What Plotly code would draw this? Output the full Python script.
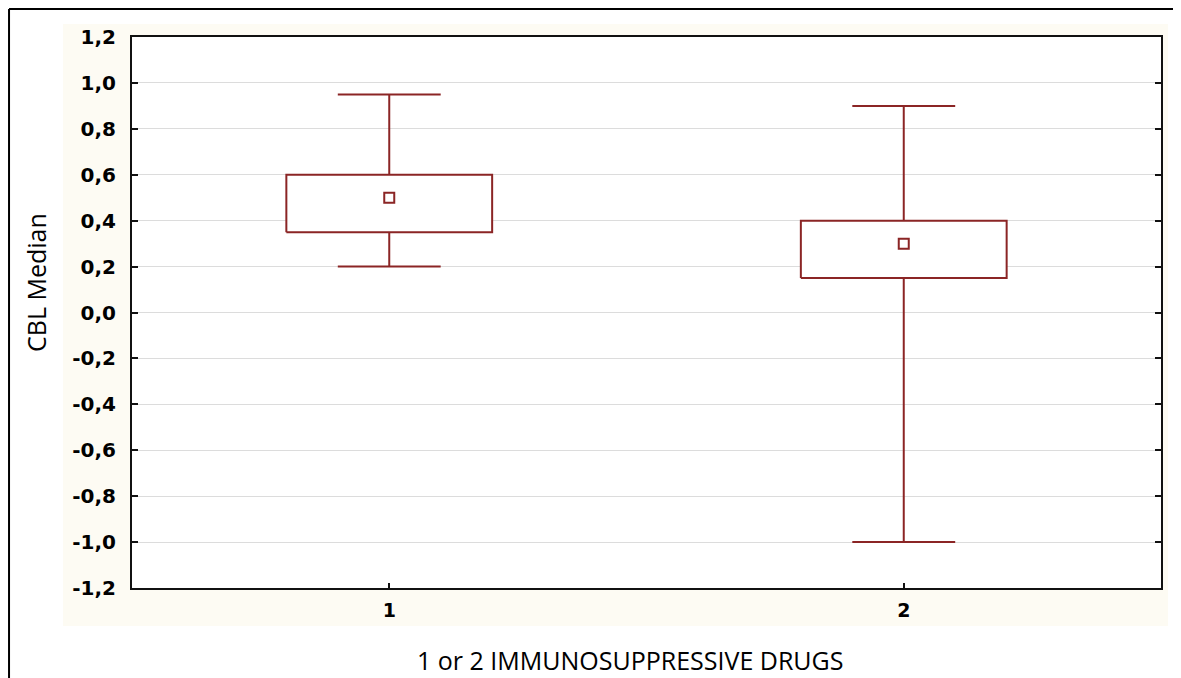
import plotly.graph_objects as go

# Data
groups = [1, 2]
q1 = [0.35, 0.15]
q3 = [0.60, 0.40]
medians = [0.50, 0.30]
whisker_low = [0.20, -1.00]
whisker_high = [0.95, 0.90]
y_ticks = [-1.2, -1.0, -0.8, -0.6, -0.4, -0.2, 0.0, 0.2, 0.4, 0.6, 0.8, 1.0, 1.2]
y_tick_labels = ["-1,2", "-1,0", "-0,8", "-0,6", "-0,4", "-0,2", "0,0", "0,2", "0,4", "0,6", "0,8", "1,0", "1,2"]
x_tick_labels = ["1", "2"]
x_title = "1 or 2 IMMUNOSUPPRESSIVE DRUGS"
y_title = "CBL Median"

COL = "#8B2525"
box_half = 0.2
cap_half = 0.1

fig = go.Figure()
for g, a, b, m, lo, hi in zip(groups, q1, q3, medians, whisker_low, whisker_high):
    # whiskers with caps
    fig.add_trace(go.Scatter(
        x=[g, g, None, g - cap_half, g + cap_half, None, g, g, None, g - cap_half, g + cap_half],
        y=[b, hi, None, hi, hi, None, a, lo, None, lo, lo],
        mode="lines", line=dict(color=COL, width=2), hoverinfo="skip", showlegend=False))
    # box
    fig.add_trace(go.Scatter(
        x=[g - box_half, g + box_half, g + box_half, g - box_half, g - box_half],
        y=[a, a, b, b, a], mode="lines", fill="toself", fillcolor="white",
        line=dict(color=COL, width=2), hoverinfo="skip", showlegend=False))
    # median marker
    fig.add_trace(go.Scatter(
        x=[g], y=[m], mode="markers",
        marker=dict(symbol="square-open", size=10, color=COL, line=dict(width=2, color=COL)),
        showlegend=False))

# Beige background and white plot area
fig.add_shape(type="rect", xref="paper", yref="paper", x0=-0.067, x1=1.0068, y0=-0.069, y1=1.0236,
              fillcolor="#FDFBF3", line=dict(width=0), layer="below")
fig.add_shape(type="rect", xref="paper", yref="paper", x0=0, x1=1, y0=0, y1=1,
              fillcolor="white", line=dict(width=0), layer="below")
# outer frame lines
fig.add_shape(type="line", xref="paper", yref="paper", x0=-0.1195, x1=-0.1195, y0=-0.3, y1=1.0508,
              line=dict(color="black", width=2))
fig.add_shape(type="line", xref="paper", yref="paper", x0=-0.1195, x1=1.2, y0=1.0508, y1=1.0508,
              line=dict(color="black", width=2))

# Axis titles
fig.add_annotation(text=x_title, xref="paper", yref="paper", x=0.484, y=-0.1307,
                   xanchor="center", yanchor="middle", showarrow=False,
                   font=dict(family="Open Sans", size=25, color="black"))
fig.add_annotation(text=y_title, xref="paper", yref="paper", x=-0.0933, y=0.5554,
                   xanchor="center", yanchor="middle", showarrow=False, textangle=-90,
                   font=dict(family="Open Sans", size=25, color="black"))

fig.update_layout(
    width=1181, height=678,
    margin=dict(l=124, r=28, t=29, b=98),
    paper_bgcolor="white", plot_bgcolor="white",
    xaxis=dict(range=[0.5, 2.5], tickvals=groups, ticktext=x_tick_labels,
               showgrid=False, zeroline=False, showline=True, linecolor="#111", linewidth=2,
               mirror=True, ticks="inside", ticklen=5, tickcolor="#111", tickwidth=2,
               ticklabelstandoff=4,
               tickfont=dict(family="DejaVu Sans", size=19, color="black", weight="bold")),
    yaxis=dict(range=[-1.2, 1.2], tickvals=y_ticks, ticktext=y_tick_labels,
               showgrid=True, gridcolor="#DCDCDC", gridwidth=1, zeroline=False,
               showline=True, linecolor="#111", linewidth=2, mirror="ticks",
               ticks="inside", ticklen=6, tickcolor="#111", tickwidth=2,
               ticklabelstandoff=10,
               tickfont=dict(family="DejaVu Sans", size=20, color="black", weight="bold")),
)

fig.write_html("out.html")
